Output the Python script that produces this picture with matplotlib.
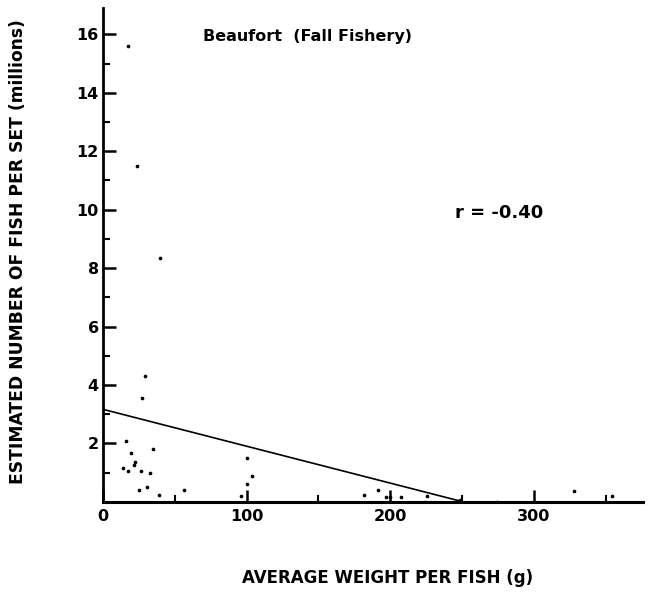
import matplotlib
matplotlib.use("Agg")
import matplotlib.pyplot as plt
import numpy as np

# Data
weight_g = [17.4, 23.7, 39.7, 29.3, 27.4, 15.8, 19.5, 35.1, 22.3, 21.6, 13.7, 17.7,
            26.5, 32.8, 25.3, 30.9, 38.8, 56.4, 96.2, 100.3, 103.6, 100.1,
            182, 191.4, 197, 199.5, 207.7, 225.5, 224, 248.8, 274, 327.7, 354]
fish_millions = [15.6, 11.5, 8.36, 4.32, 3.57, 2.07, 1.67, 1.82, 1.35, 1.27, 1.15, 1.07,
                 1.07, 0.98, 0.41, 0.51, 0.24, 0.41, 0.22, 1.50, 0.89, 0.62,
                 0.23, 0.41, 0.16, 0.16, 0.16, 0.20, 0.01, 0.05, 0.0, 0.38, 0.20]
fit_intercept = 3.17
fit_slope = -0.01263
fit_x_range = [0, 251]
x_ticks = [0, 100, 200, 300]
y_ticks = [2, 4, 6, 8, 10, 12, 14, 16]

fig = plt.figure(figsize=(6.55, 5.94), dpi=100)
ax = fig.add_axes([0.157, 0.155, 0.825, 0.8315])

ax.scatter(weight_g, fish_millions, s=7, color="black", zorder=3, linewidths=0)
fx = np.array(fit_x_range, dtype=float)
ax.plot(fx, fit_intercept + fit_slope * fx, color="black", lw=1.2)

ax.set_xlim(0, 376)
ax.set_ylim(0, 16.9)
for s in ["top", "right"]:
    ax.spines[s].set_visible(False)
ax.spines["left"].set_linewidth(2)
ax.spines["bottom"].set_linewidth(2.2)

ax.set_xticks(x_ticks)
ax.set_xticks([50, 150, 250, 350], minor=True)
ax.set_yticks(y_ticks)
ax.set_yticks(list(range(1, 17, 2)), minor=True)
ax.tick_params(axis="both", which="major", direction="in", length=9, width=1.8,
               labelsize=11.5)
ax.tick_params(axis="y", which="major", pad=3)
ax.tick_params(axis="x", which="major", pad=5)
ax.tick_params(axis="both", which="minor", direction="in", length=5, width=1.5)
for lab in ax.get_xticklabels() + ax.get_yticklabels():
    lab.set_fontweight("bold")

ax.text(0.185, 0.943, "Beaufort  (Fall Fishery)", transform=ax.transAxes,
        fontsize=11.5, fontweight="bold", ha="left", va="center")
ax.text(0.652, 0.585, "r = -0.40", transform=ax.transAxes,
        fontsize=13, fontweight="bold", ha="left", va="center")

fig.text(0.028, 0.577, "ESTIMATED NUMBER OF FISH PER SET (millions)", rotation=90,
         fontsize=12.3, fontweight="bold", ha="center", va="center")
fig.text(0.592, 0.027, "AVERAGE WEIGHT PER FISH (g)",
         fontsize=12, fontweight="bold", ha="center", va="center")

fig.savefig("out.png", dpi=100)
